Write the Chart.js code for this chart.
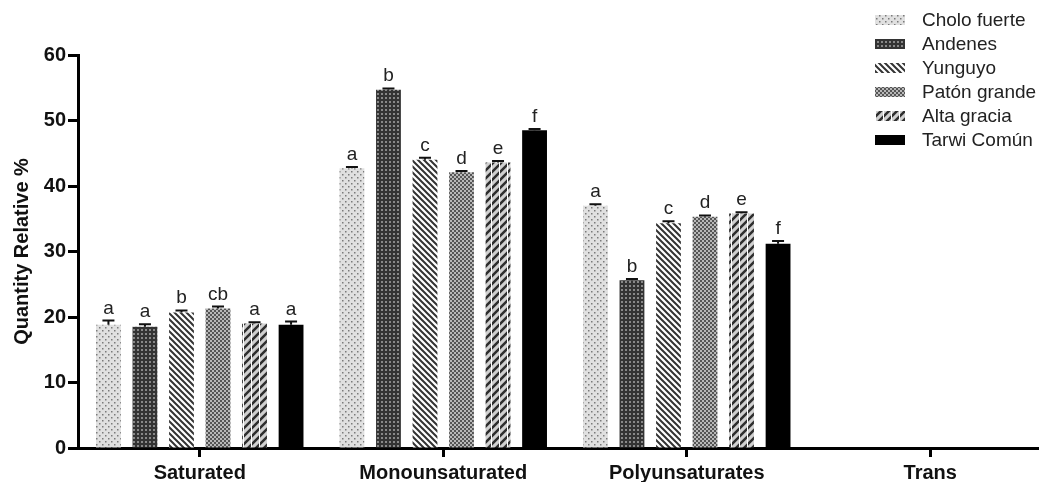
<!DOCTYPE html>
<html>
<head>
<meta charset="utf-8">
<script src="https://cdn.jsdelivr.net/npm/chart.js@4"></script>
<style>
  html, body { margin: 0; padding: 0; background: #fff; overflow: hidden; }
  #wrap { width: 1056px; height: 482px; }
</style>
</head>
<body>
<div id="wrap"><canvas id="chart"></canvas></div>
<script>
const categories = ["Saturated", "Monounsaturated", "Polyunsaturates", "Trans"];
const seriesNames = ["Cholo fuerte", "Andenes", "Yunguyo", "Patón grande", "Alta gracia", "Tarwi Común"];

const cholo   = [18.8, 42.7, 37.0, 0];
const andenes = [18.5, 54.7, 25.6, 0];
const yunguyo = [20.7, 44.0, 34.3, 0];
const paton   = [21.3, 42.1, 35.3, 0];
const alta    = [19.0, 43.6, 35.8, 0];
const tarwi   = [18.8, 48.5, 31.2, 0];

const choloErr   = [0.65, 0.2, 0.2, 0];
const andenesErr = [0.4, 0.2, 0.2, 0];
const yunguyoErr = [0.3, 0.3, 0.3, 0];
const patonErr   = [0.3, 0.2, 0.2, 0];
const altaErr    = [0.2, 0.2, 0.2, 0];
const tarwiErr   = [0.5, 0.2, 0.4, 0];

const choloLet   = ["a", "a", "a", ""];
const andenesLet = ["a", "b", "b", ""];
const yunguyoLet = ["b", "c", "c", ""];
const patonLet   = ["cb", "d", "d", ""];
const altaLet    = ["a", "e", "e", ""];
const tarwiLet   = ["a", "f", "f", ""];

const yTicks = [0, 10, 20, 30, 40, 50, 60];

const FONT = "'Liberation Sans', Arial, sans-serif";

// patterns
function pattern(w, h, draw) {
  const c = document.createElement("canvas");
  c.width = w; c.height = h;
  const g = c.getContext("2d");
  draw(g, w, h);
  return g.createPattern(c, "repeat");
}
const pCholo = pattern(6, 6, (g) => {
  g.fillStyle = "#e0e0e0"; g.fillRect(0, 0, 6, 6);
  g.fillStyle = "#7a7a7a"; g.fillRect(0, 0, 1.5, 1.5); g.fillRect(3, 3, 1.5, 1.5);
});
const pAndenes = pattern(4, 4, (g) => {
  g.fillStyle = "#333"; g.fillRect(0, 0, 4, 4);
  g.fillStyle = "#888"; g.fillRect(1, 1, 2, 2);
});
const pYunguyo = pattern(6, 6, (g) => {
  g.fillStyle = "#ffffff"; g.fillRect(0, 0, 6, 6);
  g.strokeStyle = "#333"; g.lineWidth = 2;
  g.beginPath();
  g.moveTo(-1, -1); g.lineTo(7, 7);
  g.moveTo(-4, 2); g.lineTo(4, 10);
  g.moveTo(2, -4); g.lineTo(10, 4);
  g.stroke();
});
const pPaton = pattern(4, 4, (g) => {
  g.fillStyle = "#b8b8b8"; g.fillRect(0, 0, 4, 4);
  g.fillStyle = "#555"; g.fillRect(0, 0, 2, 2); g.fillRect(2, 2, 2, 2);
});
const pAlta = pattern(8, 8, (g) => {
  g.fillStyle = "#d0d0d0"; g.fillRect(0, 0, 8, 8);
  g.strokeStyle = "#2e2e2e"; g.lineWidth = 2.5;
  g.beginPath();
  g.moveTo(-2, 10); g.lineTo(10, -2);
  g.moveTo(-6, 6); g.lineTo(6, -6);
  g.moveTo(2, 14); g.lineTo(14, 2);
  g.stroke();
  g.fillStyle = "#fff"; g.fillRect(3, 0, 1, 8);
});
const fills = [pCholo, pAndenes, pYunguyo, pPaton, pAlta, "#000000"];
const values = [cholo, andenes, yunguyo, paton, alta, tarwi];
const errs = [choloErr, andenesErr, yunguyoErr, patonErr, altaErr, tarwiErr];
const letters = [choloLet, andenesLet, yunguyoLet, patonLet, altaLet, tarwiLet];

const datasets = seriesNames.map((n, i) => ({
  label: n,
  data: values[i],
  backgroundColor: fills[i],
  borderWidth: 0,
  categoryPercentage: 0.9,
  barPercentage: 0.68
}));

const extras = {
  id: "extras",
  afterDatasetsDraw(chart) {
    const ctx = chart.ctx;
    const y = chart.scales.y;
    ctx.save();
    datasets.forEach((ds, i) => {
      const meta = chart.getDatasetMeta(i);
      meta.data.forEach((bar, j) => {
        const v = values[i][j];
        if (!v) return;
        const top = y.getPixelForValue(v + errs[i][j]);
        ctx.strokeStyle = "#111";
        ctx.lineWidth = 2;
        ctx.beginPath();
        ctx.moveTo(bar.x, y.getPixelForValue(v));
        ctx.lineTo(bar.x, top);
        ctx.moveTo(bar.x - 6, top);
        ctx.lineTo(bar.x + 6, top);
        ctx.stroke();
        ctx.fillStyle = "#222";
        ctx.font = "19px " + FONT;
        ctx.textAlign = "center";
        ctx.textBaseline = "alphabetic";
        ctx.fillText(letters[i][j], bar.x, top - 7);
      });
    });
    // legend
    ctx.font = "19px " + FONT;
    ctx.textAlign = "left";
    ctx.textBaseline = "middle";
    seriesNames.forEach((n, i) => {
      const ly = 20 + i * 24;
      ctx.fillStyle = fills[i];
      ctx.fillRect(875, ly - 5, 30, 10);
      ctx.fillStyle = "#222";
      ctx.fillText(n, 922, ly + 1);
    });
    ctx.restore();
  }
};

new Chart(document.getElementById("chart"), {
  type: "bar",
  data: { labels: categories, datasets: datasets },
  plugins: [extras],
  options: {
    responsive: true,
    maintainAspectRatio: false,
    animation: false,
    layout: { padding: { top: 55, right: 4, left: 0, bottom: 0 } },
    plugins: { legend: { display: false }, tooltip: { enabled: false } },
    scales: {
      x: {
        afterFit(s) { s.height = 34; },
        grid: { offset: false, drawOnChartArea: false, tickLength: 9, tickWidth: 3, color: "#000" },
        border: { width: 3, color: "#000" },
        ticks: { color: "#111", padding: 4, font: { family: FONT, size: 20, weight: "bold" } }
      },
      y: {
        min: 0, max: 60,
        afterFit(s) { s.width = 78; },
        afterBuildTicks(s) { s.ticks = yTicks.map(v => ({ value: v })); },
        grid: { drawOnChartArea: false, tickLength: 10, tickWidth: 3, color: "#000" },
        border: { width: 3, color: "#000" },
        ticks: { color: "#111", padding: 2, font: { family: FONT, size: 20, weight: "bold" } },
        title: {
          display: true, text: "Quantity Relative %", color: "#111",
          padding: { top: 10, bottom: 4 },
          font: { family: FONT, size: 20, weight: "bold" }
        }
      }
    }
  }
});
</script>
</body>
</html>
